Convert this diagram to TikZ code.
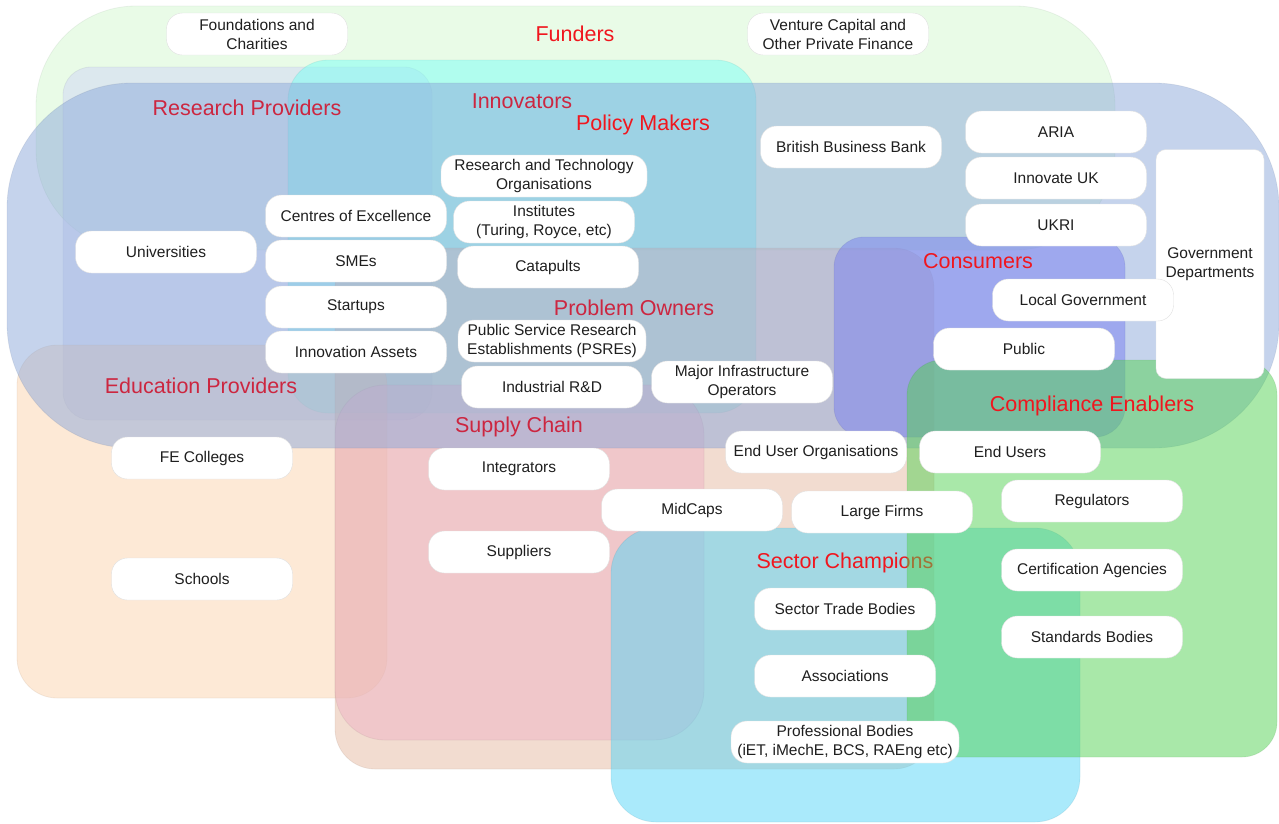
\documentclass[tikz,border=0pt]{standalone}
\usepackage{fontspec}
\setmainfont{Liberation Sans}
\usetikzlibrary{positioning}
\definecolor{labelred}{RGB}{240,22,30}
\definecolor{labeldark}{RGB}{204,38,64}
\definecolor{funderfill}{RGB}{211,248,208}
\definecolor{researchfill}{RGB}{207,212,244}
\definecolor{innovfill}{RGB}{120,255,245}
\definecolor{edufill}{RGB}{251,211,173}
\definecolor{problemfill}{RGB}{229,185,161}
\definecolor{supplyfill}{RGB}{238,180,196}
\definecolor{policyfill}{RGB}{140,168,218}
\definecolor{consumerfill}{RGB}{119,127,240}
\definecolor{sectorfill}{RGB}{85,213,247}
\definecolor{compfill}{RGB}{83,209,83}
\newcommand{\boxfont}{\fontsize{15.5}{19}\selectfont}
\newcommand{\groupfont}{\fontsize{21.5}{25}\selectfont}

\begin{document}
\begin{tikzpicture}[x=1pt, y=-1pt,
    zone/.style={fill=#1, fill opacity=0.5, draw=#1!60!black, draw opacity=0.12, line width=0.8pt},
    group/.style={text=labelred, font=\groupfont, inner sep=0pt},
    box/.style={rectangle, draw=black!12, fill=white, rounded corners=16pt,
                minimum width=181pt, minimum height=42pt, inner sep=2pt,
                align=center, font=\boxfont, text=black!88}
]
    \useasboundingbox (0,0) rectangle (1279,823);

    % Lower groups
    \draw[zone=funderfill, rounded corners=100pt] (36,6) rectangle (1115,250);
    \draw[zone=researchfill, rounded corners=28pt] (63,67) rectangle (432,420);
    \draw[zone=innovfill, rounded corners=40pt] (288,60) rectangle (756,413);
    \draw[zone=edufill, rounded corners=40pt] (17,345) rectangle (387,698);
    \draw[zone=problemfill, rounded corners=40pt] (335,248) rectangle (934,769);
    \draw[zone=supplyfill, rounded corners=50pt] (335,385) rectangle (704,740);

    % Upper groups
    \draw[zone=policyfill, rounded corners=125pt] (7,83) rectangle (1279,448);
    \draw[zone=consumerfill, rounded corners=30pt] (834,237) rectangle (1125,437);
    \draw[zone=sectorfill, rounded corners=45pt] (611,528) rectangle (1080,822);

    \node[group, text=labeldark] (research) at (247,108) {Research Providers};
    \node[group, text=labeldark] (innov) at (522,101) {Innovators};
    \node[group, text=labeldark] (edu) at (201,386) {Education Providers};
    \node[group, text=labeldark] (problem) at (634,308) {Problem Owners};
    \node[group, text=labeldark] (supply) at (519,427) {Supply Chain};

    \node[group] (funders) at (575,34) {Funders};
    \node[group] (policy) at (643,125) {Policy Makers};
    \node[group] (consumers) at (978,261) {Consumers};
    \node[group] (sector) at (845,563) {Sector Champions};

    \draw[zone=compfill, rounded corners=35pt] (907,360) rectangle (1277,757);
    \node[group] (compliance) at (1092,406) {Compliance Enablers};

    % Funders
    \node[box] (foundations) at (257,34) {Foundations and\\Charities};
    \node[box] (venture) at (838,34) {Venture Capital and\\Other Private Finance};
    \node[box] (bbb) at (851,147) {British Business Bank};
    \node[box] (aria) at (1056,132) {ARIA};
    \node[box] (iuk) at (1056,178) {Innovate UK};
    \node[box] (ukri) at (1056,225) {UKRI};
    \node[box, minimum width=108pt, minimum height=229pt, rounded corners=10pt] (govdept) at (1210,264) {Government\\Departments};

    % Research and innovation
    \node[box] (universities) at (166,252) {Universities};
    \node[box] (coe) at (356,216) {Centres of Excellence};
    \node[box] (smes) at (356,261) {SMEs};
    \node[box] (startups) at (356,307) {Startups};
    \node[box] (assets) at (356,352) {Innovation Assets};
    \node[box, minimum width=206pt] (rto) at (544,176) {Research and Technology\\Organisations};
    \node[box] (institutes) at (544,222) {Institutes\\(Turing, Royce, etc)};
    \node[box] (catapults) at (548,267) {Catapults};
    \node[box, minimum width=188pt] (psre) at (552,341) {Public Service Research\\Establishments (PSREs)};
    \node[box] (indrd) at (552,387) {Industrial R\&D};
    \node[box] (infra) at (742,382) {Major Infrastructure\\Operators};

    % Consumers
    \node[box] (localgov) at (1083,300) {Local Government};
    \node[box] (public) at (1024,349) {Public};

    % Education
    \node[box] (fe) at (202,458) {FE Colleges};
    \node[box] (schools) at (202,579) {Schools};

    % Supply chain
    \node[box] (integrators) at (519,469) {Integrators};
    \node[box] (suppliers) at (519,552) {Suppliers};
    \node[box] (midcaps) at (692,510) {MidCaps};
    \node[box] (enduserorg) at (816,452) {End User Organisations};
    \node[box] (endusers) at (1010,452) {End Users};
    \node[box] (large) at (882,512) {Large Firms};

    % Compliance
    \node[box] (regulators) at (1092,501) {Regulators};
    \node[box] (certif) at (1092,570) {Certification Agencies};
    \node[box] (standards) at (1092,637) {Standards Bodies};

    % Sector champions
    \node[box] (trade) at (845,609) {Sector Trade Bodies};
    \node[box] (assoc) at (845,676) {Associations};
    \node[box, minimum width=228pt] (prof) at (845,742) {Professional Bodies\\(iET, iMechE, BCS, RAEng etc)};
\end{tikzpicture}
\end{document}
